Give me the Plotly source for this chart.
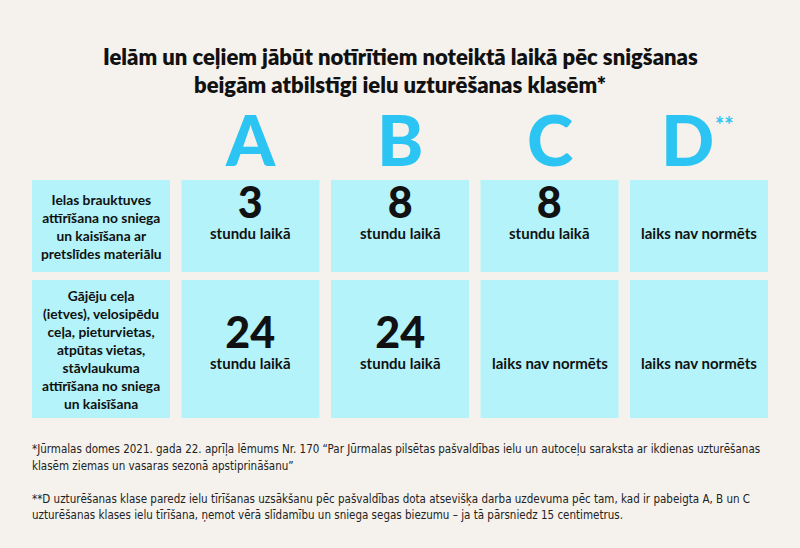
import plotly.graph_objects as go

# ---- data ----
title_lines = [
    "Ielām un ceļiem jābūt notīrītiem noteiktā laikā pēc snigšanas",
    "beigām atbilstīgi ielu uzturēšanas klasēm*",
]
classes = ["A", "B", "C", "D"]
class_marks = ["", "", "", "**"]
row_labels = [
    "Ielas brauktuves<br>attīrīšana no sniega<br>un kaisīšana ar<br>pretslīdes materiālu",
    "Gājēju ceļa<br>(ietves), velosipēdu<br>ceļa, pieturvietas,<br>atpūtas vietas,<br>"
    "stāvlaukuma<br>attīrīšana no sniega<br>un kaisīšana",
]
hours = [
    ["3", "8", "8", None],
    ["24", "24", None, None],
]
hours_unit = "stundu laikā"
not_normed = "laiks nav normēts"
footnotes = [
    "*Jūrmalas domes 2021. gada 22. aprīļa lēmums Nr. 170 “Par Jūrmalas pilsētas pašvaldības ielu un autoceļu saraksta ar ikdienas uzturēšanas",
    "klasēm ziemas un vasaras sezonā apstiprināšanu”",
    "",
    "**D uzturēšanas klase paredz ielu tīrīšanas uzsākšanu pēc pašvaldības dota atsevišķa darba uzdevuma pēc tam, kad ir pabeigta A, B un C",
    "uzturēšanas klases ielu tīrīšana, ņemot vērā slīdamību un sniega segas biezumu – ja tā pārsniedz 15 centimetrus.",
]

# ---- layout grid ----
W, H = 800, 548
BG = "#F5F2ED"
CELL = "#B3F3F9"
BLUE = "#2BC4F3"
INK = "#111111"
HEAD = "Lato, 'Open Sans', sans-serif"
SMALL = "'Liberation Sans Narrow', 'DejaVu Sans Condensed', sans-serif"

col_x0, col_pitch, cell_w = 32, 149.5, 138
row_tops, row_h = [180, 280], [92, 138]
unit_base = [240, 370]  # baseline of the "stundu laikā" line in each row


def col_left(i):
    return col_x0 + i * col_pitch


def col_mid(i):
    return col_left(i) + cell_w / 2


fig = go.Figure()
shapes, ann = [], []

# title
for k, line in enumerate(title_lines):
    ann.append(dict(x=W / 2, y=56 + k * 28, text=line, showarrow=False,
                    font=dict(family=HEAD, size=22, color=INK, weight=800)))

# class letters
for i, (c, m) in enumerate(zip(classes, class_marks)):
    x = col_mid(i + 1)
    shift = -12 if m else 0
    ann.append(dict(x=x + shift, y=139, text=c, showarrow=False,
                    font=dict(family=HEAD, size=70, color=BLUE, weight=900)))
    if m:
        ann.append(dict(x=x + 25, y=124, text=m, showarrow=False,
                        font=dict(family=HEAD, size=22, color=BLUE, weight=700)))

# cells
for r in range(len(row_labels)):
    y0 = row_tops[r]
    y1 = y0 + row_h[r]
    ym = (y0 + y1) / 2
    for i in range(5):
        shapes.append(dict(type="rect", xref="x", yref="y", x0=col_left(i), x1=col_left(i) + cell_w,
                           y0=y0, y1=y1, fillcolor=CELL, line=dict(width=0), layer="below"))
    ann.append(dict(x=col_mid(0), y=ym, text=row_labels[r], showarrow=False,
                    font=dict(family=HEAD, size=13.8, color=INK, weight=700)))
    for i, v in enumerate(hours[r]):
        x = col_mid(i + 1)
        if v is None:
            ann.append(dict(x=x, y=unit_base[r] + 4, yanchor="bottom", text=not_normed, showarrow=False,
                            font=dict(family=HEAD, size=15, color=INK, weight=700)))
        else:
            txt = (f"<span style='font-size:43px;font-weight:900'>{v}</span><br>"
                   f"<span style='font-size:15px'>{hours_unit}</span>")
            ann.append(dict(x=x, y=unit_base[r] + 4, yanchor="bottom", text=txt, showarrow=False,
                            font=dict(family=HEAD, size=16.5, color=INK, weight=700)))

# footnotes
for k, line in enumerate(footnotes):
    if line:
        ann.append(dict(x=30, y=449 + k * 16.5, text=line, showarrow=False, xanchor="left",
                        font=dict(family=SMALL, size=11.5, color="#222222")))

fig.update_layout(
    width=W, height=H, margin=dict(l=0, r=0, t=0, b=0),
    paper_bgcolor=BG, plot_bgcolor=BG,
    xaxis=dict(range=[0, W], visible=False, fixedrange=True),
    yaxis=dict(range=[H, 0], visible=False, fixedrange=True),
    shapes=shapes, annotations=ann, showlegend=False,
)
fig.write_html(
    "out.html",
    config={"displayModeBar": False},
    post_script="document.body.style.margin='0';document.body.style.background='" + BG + "';",
)
